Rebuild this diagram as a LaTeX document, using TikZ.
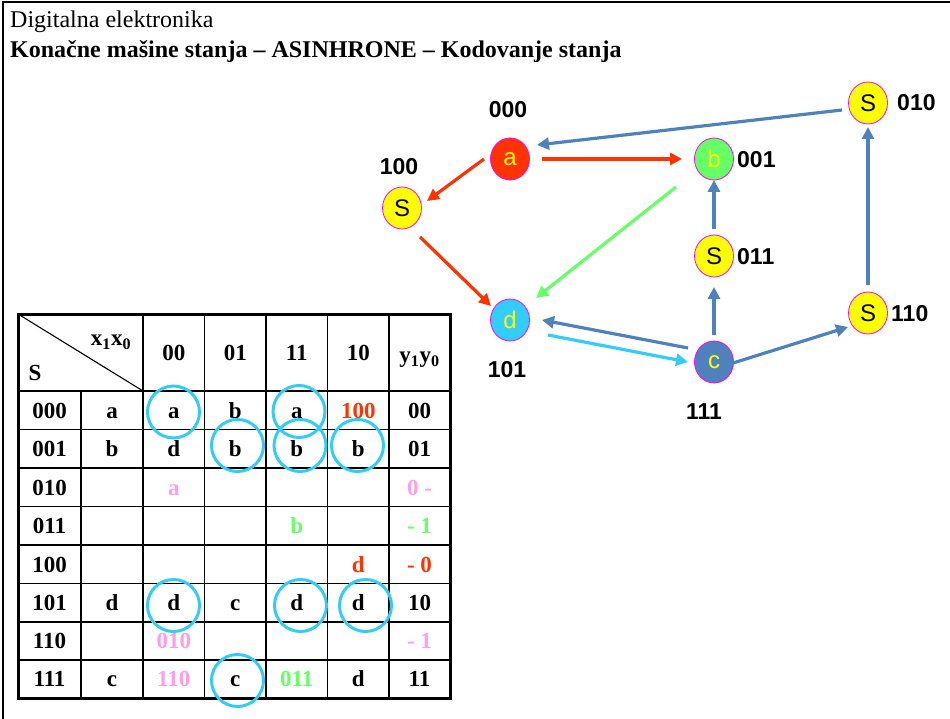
\documentclass[tikz,border=0pt]{standalone}
\usepackage{fontspec}
\setmainfont{Liberation Serif}
\newfontfamily\arialf{Liberation Sans}
\usetikzlibrary{shapes.geometric,arrows.meta,calc}

\definecolor{stRed}{HTML}{FF3300}
\definecolor{stGreen}{HTML}{66FF66}
\definecolor{stYellow}{HTML}{FFFF00}
\definecolor{stCyan}{HTML}{33CCFF}
\definecolor{stBlue}{HTML}{4F81BD}
\definecolor{stPink}{HTML}{FF9EE6}
\definecolor{stRim}{HTML}{FF00FF}
\definecolor{ringCol}{HTML}{33CCF5}

\begin{document}
\begin{tikzpicture}[x=1pt,y=-1pt,
  state/.style={ellipse, draw=stRim, line width=0.8pt, minimum width=39pt,
    minimum height=42pt, inner sep=0pt, font=\arialf\fontsize{24}{24}\selectfont},
  codelbl/.style={inner sep=0pt, text height=17pt, text depth=0pt,
    font=\arialf\bfseries\fontsize{23}{23}\selectfont},
  edge/.style={line width=3.2pt, -{Triangle[length=12pt,width=12pt]}},
  cellt/.style={inner sep=0pt, text height=15.5pt, text depth=0pt,
    font=\bfseries\fontsize{23}{23}\selectfont},
  ring/.style={draw=ringCol, line width=3pt},
  thin/.style={line width=1.4pt},
  thick/.style={line width=3pt}
]
\useasboundingbox (0,0) rectangle (950,719);

% page frame (left and top edges)
\draw[line width=2.5pt] (3,719) -- (3,2) -- (950,2);

% headings
\node[anchor=base west, inner sep=0pt, font=\fontsize{24}{24}\selectfont]
  (hdrA) at (10,28) {Digitalna elektronika};
\node[anchor=base west, inner sep=0pt, font=\bfseries\fontsize{24}{24}\selectfont]
  (hdrB) at (10,58) {Konačne mašine stanja – ASINHRONE – Kodovanje stanja};

% ---------------- state graph ----------------
\node[state, fill=stRed, text=stYellow]   (a)    at (510,159) {a};
\node[state, fill=stGreen, text=stYellow] (b)    at (714,159) {b};
\node[state, fill=stYellow]               (s100) at (402,208) {S};
\node[state, fill=stYellow]               (s011) at (714,256) {S};
\node[state, fill=stCyan, text=stYellow]  (d)    at (510,320) {d};
\node[state, fill=stBlue, text=stYellow]  (c)    at (714,362) {c};
\node[state, fill=stYellow]               (s110) at (868,313) {S};
\node[state, fill=stYellow]               (s010) at (868,103) {S};

\node[codelbl] (l000) at (508,109) {000};
\node[codelbl] (l100) at (399,166) {100};
\node[codelbl, anchor=west] (l001) at (737,159) {001};
\node[codelbl, anchor=west] (l011) at (737,256) {011};
\node[codelbl] (l101) at (507,369) {101};
\node[codelbl] (l111) at (704,411) {111};
\node[codelbl, anchor=west] (l110) at (891,313) {110};
\node[codelbl, anchor=west] (l010) at (897,102) {010};

% transitions
\draw[edge, stBlue]  ($(s010)+(-26,7)$)  -- ($(a)+(27,-14)$);
\draw[edge, stRed]   ($(a)+(32,0)$)      -- ($(b)+(-32,0)$);
\draw[edge, stRed]   ($(a)+(-26,0)$)     -- ($(s100)+(25,-7)$);
\draw[edge, stRed]   ($(s100)+(18,29)$)  -- ($(d)+(-19,-14)$);
\draw[edge, stGreen] ($(b)+(-38,28)$)    -- ($(d)+(26,-22)$);
\draw[edge, stBlue]  ($(s011)+(0,-27)$)  -- ($(b)+(0,21)$);
\draw[edge, stBlue]  ($(c)+(0,-27)$)     -- ($(s011)+(0,31)$);
\draw[edge, stBlue]  ($(c)+(-26,-14)$)   -- ($(d)+(32,0)$);
\draw[edge, stCyan]  ($(d)+(38,15)$)     -- ($(c)+(-26,0)$);
\draw[edge, stBlue]  ($(c)+(19,1)$)      -- ($(s110)+(-20,14)$);
\draw[edge, stBlue]  ($(s110)+(0,-28)$)  -- ($(s010)+(0,24)$);

% ---------------- transition table ----------------
% inner grid
\foreach \yy in {391,429.5,468,506.5,545,583.5,622,660}
  \draw[thin] (18,\yy) -- (450,\yy);
\draw[thin] (81,391) -- (81,698);
\foreach \xx in {143,204.5,266,327.5,389}
  \draw[thin] (\xx,314) -- (\xx,698);
\draw[line width=1.1pt] (18,314) -- (143,391);
% outer frame
\draw[thick] (18,314) rectangle (450,698);

% header
\node[cellt] (hx) at (111,338) {x\textsubscript{1}x\textsubscript{0}};
\node[cellt] (hs) at (35,373) {S};
\node[cellt] (h00) at (173.75,353) {00};
\node[cellt] (h01) at (235.25,353) {01};
\node[cellt] (h11) at (296.75,353) {11};
\node[cellt] (h10) at (358.25,353) {10};
\node[cellt] (hy) at (419.5,355) {y\textsubscript{1}y\textsubscript{0}};

% body rows: code / state / 00 / 01 / 11 / 10 / outputs
\foreach \rowy/\code/\st/\ca/\cb/\cc/\cd/\outp [count=\r] in {
  410.25/000/a/a/b/a/{\textcolor{stRed}{100}}/00,
  448.75/001/b/d/b/b/b/01,
  487.25/010/{}/{\textcolor{stPink}{a}}/{}/{}/{}/{\textcolor{stPink}{0 -}},
  525.75/011/{}/{}/{}/{\textcolor{stGreen}{b}}/{}/{\textcolor{stGreen}{- 1}},
  564.25/100/{}/{}/{}/{}/{\textcolor{stRed}{d}}/{\textcolor{stRed}{- 0}},
  602.75/101/d/d/c/d/d/10,
  641/110/{}/{\textcolor{stPink}{010}}/{}/{}/{}/{\textcolor{stPink}{- 1}},
  679/111/c/{\textcolor{stPink}{110}}/c/{\textcolor{stGreen}{011}}/d/11}
{
  \node[cellt] (r\r c0) at (49.5,\rowy) {\code};
  \node[cellt] (r\r c1) at (112,\rowy) {\st};
  \node[cellt] (r\r c2) at (173.75,\rowy) {\ca};
  \node[cellt] (r\r c3) at (235.25,\rowy) {\cb};
  \node[cellt] (r\r c4) at (296.75,\rowy) {\cc};
  \node[cellt] (r\r c5) at (358.25,\rowy) {\cd};
  \node[cellt] (r\r c6) at (419.5,\rowy) {\outp};
}

% stable-state rings
\foreach \cx/\cy in {173.5/412, 299/411.5, 237.5/445.5, 300/445.5, 357.5/445.5,
                     173.5/605.5, 300.5/605.5, 365.5/605.5, 237.5/680.5}
  \draw[ring] (\cx,\cy) circle[radius=26];
\end{tikzpicture}
\end{document}
